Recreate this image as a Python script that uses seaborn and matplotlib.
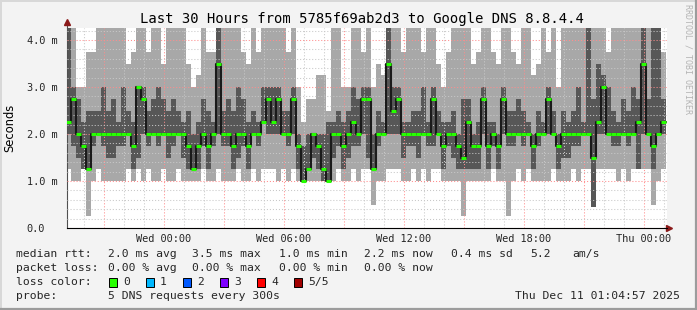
import matplotlib
matplotlib.use("Agg")
import numpy as np
import pandas as pd
import seaborn as sns
import matplotlib.pyplot as plt
from matplotlib.lines import Line2D
from matplotlib.patches import Rectangle

# ---------------- data (ms), one column = 15 min, starting Tue 19:05 ----------------
start_hour = -4.92          # hours relative to Wed 00:00
step_hours = 0.25

smoke_lo = [1.25,1.0,1.0,1.25,0.25,1.0,1.25,1.0,1.0,1.0, 1.0,1.0,1.25,1.0,1.25,1.0,1.25,1.0,1.0,1.25,
            1.0,1.0,1.25,1.0,1.0,1.0,1.0,1.25,1.0,1.0, 1.25,1.0,1.0,1.0,1.25,1.0,1.0,1.25,1.0,1.25,
            1.25,1.25,1.0,1.25,1.0,1.25,1.0,1.0,1.0,1.0, 1.0,1.0,1.0,1.0,1.25,1.0,1.0,1.25,1.0,1.25,
            1.25,0.5,1.0,1.0,1.25,1.25,1.25,1.0,1.0,1.25, 1.0,1.25,1.0,1.25,1.25,1.0,1.0,1.0,1.0,0.25,
            1.0,1.0,1.0,1.0,1.0,1.25,1.0,1.0,0.25,1.0, 1.25,1.0,1.25,1.0,1.0,1.0,1.0,1.25,1.0,1.0,
            1.0,1.25,1.0,1.25,1.25,0.45,1.25,1.25,1.25,1.25, 1.0,1.25,1.0,1.25,1.25,1.25,1.25,0.5,1.0,1.25]
smoke_q1 = [2.0,1.75,1.5,1.25,1.25,1.75,2.0,1.75,1.5,1.5, 1.75,1.75,2.0,1.25,1.5,2.0,1.75,2.0,1.75,2.0,
            1.5,1.75,2.0,1.5,1.25,1.25,1.25,1.75,1.25,1.75, 2.0,1.75,1.75,1.25,1.5,1.75,1.25,2.0,1.75,2.25,
            2.0,2.0,2.0,2.0,1.75,2.0,1.25,1.0,1.25,1.5, 1.25,1.0,1.0,1.5,1.75,1.25,1.5,1.75,1.75,2.0,
            1.5,1.25,1.75,2.0,2.0,2.0,2.0,1.5,1.75,1.75, 1.5,2.0,1.75,1.75,2.0,1.25,1.75,1.5,1.25,1.25,
            1.25,1.25,1.25,2.0,1.25,1.75,1.25,2.0,1.75,1.75, 2.0,1.75,2.0,1.25,1.75,2.0,2.0,2.0,1.25,1.5,
            1.5,1.75,1.75,2.0,2.0,0.45,2.0,2.0,2.0,1.75, 1.75,2.0,1.75,2.0,1.25,2.0,2.0,1.25,2.0,2.0]
median   = [2.25,2.75,2.0,1.75,1.25,2.0,2.0,2.0,2.0,2.0, 2.0,2.0,2.0,1.75,3.0,2.75,2.0,2.0,2.0,2.0,
            2.0,2.0,2.0,2.0,1.75,1.25,1.75,2.0,1.75,2.0, 3.5,2.0,2.0,1.75,2.0,2.0,1.75,2.0,2.0,2.25,
            2.75,2.25,2.75,2.0,2.0,2.75,1.75,1.0,1.25,2.0, 1.75,1.25,1.0,2.0,2.0,1.75,2.0,2.25,2.0,2.75,
            2.75,1.25,2.0,2.0,3.5,2.5,2.75,2.0,2.0,2.0, 2.0,2.0,2.0,2.75,2.0,1.75,2.0,2.0,1.75,1.5,
            2.25,1.75,1.75,2.75,1.75,2.0,1.75,2.75,2.0,2.0, 2.0,2.0,2.0,1.75,2.0,2.0,2.75,2.0,1.75,2.0,
            2.0,2.0,2.0,2.0,2.0,1.5,2.25,3.0,2.0,2.0, 2.0,2.0,2.0,2.0,2.25,3.5,2.0,1.75,2.0,2.25]
smoke_q3 = [4.3,3.0,2.75,2.25,2.5,2.5,2.5,3.0,2.5,2.75, 2.25,3.0,2.5,2.25,3.0,3.0,2.5,2.75,3.0,2.75,
            2.5,2.75,2.5,2.25,2.5,2.0,2.25,2.75,2.5,2.25, 4.3,2.5,2.75,2.5,3.0,2.75,2.25,2.5,2.25,3.0,
            3.0,3.0,3.0,2.5,2.5,3.0,2.0,1.75,2.0,2.0, 2.0,2.0,2.25,2.25,2.5,2.25,2.5,3.0,2.75,3.0,
            3.0,2.0,2.5,2.25,4.3,3.0,3.0,2.25,2.25,2.5, 2.5,3.0,2.25,3.0,2.5,2.25,2.25,2.5,2.0,2.75,
            2.75,2.0,2.25,3.0,2.25,2.25,2.0,3.0,2.5,2.5, 2.75,2.5,2.25,2.0,2.5,2.25,3.0,2.5,2.0,2.5,
            2.25,2.5,3.0,2.25,4.3,2.75,3.5,3.25,3.0,2.5, 2.25,2.75,2.5,3.0,2.75,4.3,2.75,4.3,4.3,2.75]
smoke_hi = [4.3,4.3,3.0,3.0,3.75,3.75,4.3,4.3,4.3,4.3, 4.3,4.3,3.5,3.75,4.3,4.3,3.75,4.3,4.3,3.5,
            4.3,4.3,4.3,4.3,3.5,3.0,3.25,4.3,3.75,3.75, 4.3,4.3,4.3,4.3,4.3,3.75,3.5,4.3,3.75,4.3,
            4.3,4.3,4.3,4.3,3.75,4.3,3.0,2.25,2.75,2.75, 3.25,3.25,2.5,4.3,4.3,3.0,3.0,4.3,4.3,3.75,
            4.3,3.0,3.5,3.25,4.3,4.3,4.3,3.75,4.3,4.3, 4.3,3.75,4.3,4.3,3.5,3.0,3.75,4.3,4.3,4.3,
            4.3,3.5,3.75,4.3,4.3,3.75,3.5,4.3,4.3,3.75, 3.5,4.3,4.3,3.25,3.5,4.3,3.75,4.3,3.0,4.3,
            4.3,4.3,4.3,4.3,4.3,4.3,4.3,4.3,3.75,4.3, 4.3,4.3,4.3,4.3,4.3,4.3,4.3,4.3,4.3,3.75]

xtick_hours = [-3, 0, 3, 6, 9, 12, 15, 18, 21, 24]
xtick_labels = ["", "Wed 00:00", "", "Wed 06:00", "", "Wed 12:00", "", "Wed 18:00", "", "Thu 00:00"]
ytick_values = [0, 1, 2, 3, 4]
ytick_labels = ["0.0", "1.0 m", "2.0 m", "3.0 m", "4.0 m"]

title = "Last 30 Hours from 5785f69ab2d3 to Google DNS 8.8.4.4"
row1 = [("median rtt:", 16), ("2.0 ms avg", 107.5), ("3.5 ms max", 192.5), ("1.0 ms min", 279),
        ("2.2 ms now", 364.5), ("0.4 ms sd", 451), ("5.2", 530), ("am/s", 572)]
row2 = [("packet loss:", 16), ("0.00 % avg", 107.5), ("0.00 % max", 192.5), ("0.00 % min", 279),
        ("0.00 % now", 364.5)]
loss_labels = ["0", "1", "2", "3", "4", "5/5"]
loss_colors = ["#26ff00", "#00b8ff", "#0059ff", "#7e00ff", "#ff0000", "#a10000"]
loss_box_x = [108.5, 145.5, 182.5, 219.5, 256.5, 293.5]
probe_text = "5 DNS requests every 300s"
stamp_text = "Thu Dec 11 01:04:57 2025"

# ---------------- figure ----------------
sns.set_style("white")
plt.rcParams["font.family"] = ["DejaVu Sans Mono", "DejaVu Sans"]

W, H = 697, 310
BG = "#f3f3f3"
fig = plt.figure(figsize=(W / 100, H / 100), dpi=100, facecolor=BG)
ax = fig.add_axes([67 / W, (H - 228) / H, 600 / W, 200 / H])
ax.set_facecolor("white")

def fx(x):
    return x / W

def fy(y):
    return 1 - y / H

n = len(median)
t = start_hour + step_hours * np.arange(n)
edges = np.append(t, t[-1] + step_hours)

def ext(a):
    a = np.asarray(a, dtype=float)
    return np.append(a, a[-1])

ax.fill_between(edges, ext(smoke_lo), ext(smoke_hi), step="post", color="#a8a8a8", lw=0, zorder=1)
ax.fill_between(edges, ext(smoke_q1), ext(smoke_q3), step="post", color="#575757", lw=0, zorder=1.2)

df = pd.DataFrame({"t": edges, "median": ext(median)})
sns.lineplot(data=df, x="t", y="median", drawstyle="steps-post", color="#1a1a1a",
             lw=1.5, ax=ax, zorder=3, estimator=None, legend=False)
ax.hlines(median, t, t + step_hours, colors="#26ff00", lw=2.2, zorder=4)

ax.set_xlim((67 - 164) / 20, (667 - 164) / 20)
ax.set_ylim(0, 200 / 47)
ax.set_xlabel("")
ax.set_ylabel("")

ax.set_xticks(xtick_hours)
ax.set_xticklabels(xtick_labels)
ax.set_xticks(np.arange(-4, 26, 1), minor=True)
ax.set_yticks(ytick_values)
ax.set_yticklabels(ytick_labels)
ax.set_yticks(np.arange(0, 4.3, 0.2), minor=True)

ax.set_axisbelow(False)
ax.grid(which="minor", color="#c8c8c8", lw=0.75, ls=(0, (1.0, 1.9)))
ax.grid(which="major", color="#ff8c8c", lw=0.75, ls=(0, (1.0, 1.9)))

ax.tick_params(axis="both", which="major", length=3, width=0.7, color="#777777", labelsize=7.4)
ax.tick_params(axis="both", which="minor", length=2, width=0.7, color="#999999")
ax.tick_params(axis="x", which="major", pad=1.2)
ax.tick_params(axis="y", which="major", pad=25.9)
for lbl in ax.get_yticklabels():
    lbl.set_horizontalalignment("left")

for s in ["top", "right"]:
    ax.spines[s].set_visible(False)
ax.spines["left"].set_color("#505050")
ax.spines["left"].set_linewidth(0.8)
ax.spines["bottom"].set_color("#000000")
ax.spines["bottom"].set_linewidth(0.8)

# axis extension + arrows
ax.add_line(Line2D([0, 0], [1.0, 1.02], transform=ax.transAxes, color="#505050", lw=0.8, clip_on=False))
ax.plot([0], [1.03], marker="^", ms=4.5, color="#8b1a1a", transform=ax.transAxes, clip_on=False)
ax.plot([1.004], [0], marker=">", ms=4.5, color="#8b1a1a", transform=ax.transAxes, clip_on=False)

# texts
fig.text(fx(362), fy(19), title, ha="center", va="center", fontsize=10, color="black")
fig.text(fx(10), fy(128), "Seconds", rotation=90, ha="center", va="center", fontsize=8.3,
         family="DejaVu Sans", color="black")
fig.text(fx(688), fy(59), "RRDTOOL / TOBI OETIKER", rotation=270, ha="center", va="center",
         fontsize=6, color="#b4b4b4")

LF = 8.2
for txt, x in row1:
    fig.text(fx(x), fy(254), txt, ha="left", va="center", fontsize=LF)
for txt, x in row2:
    fig.text(fx(x), fy(268), txt, ha="left", va="center", fontsize=LF)
fig.text(fx(16), fy(282), "loss color:", ha="left", va="center", fontsize=LF)
for lab, col, bx in zip(loss_labels, loss_colors, loss_box_x):
    fig.add_artist(Rectangle((fx(bx), fy(286.5)), 8 / W, 9 / H, transform=fig.transFigure,
                             facecolor=col, edgecolor="black", lw=0.7))
    fig.text(fx(bx + 14.5), fy(282), lab, ha="left", va="center", fontsize=LF)
fig.text(fx(16), fy(296), "probe:", ha="left", va="center", fontsize=LF)
fig.text(fx(107.5), fy(296), probe_text, ha="left", va="center", fontsize=LF)
fig.text(fx(680), fy(296), stamp_text, ha="right", va="center", fontsize=LF)

# 3D-ish frame
fig.add_artist(Line2D([0, 1], [1 - 0.5 / H, 1 - 0.5 / H], transform=fig.transFigure, color="#d8d8d8", lw=1.4))
fig.add_artist(Line2D([0.5 / W, 0.5 / W], [0, 1], transform=fig.transFigure, color="#d8d8d8", lw=1.4))
fig.add_artist(Line2D([0, 1], [1.0 / H, 1.0 / H], transform=fig.transFigure, color="#9c9c9c", lw=1.6))
fig.add_artist(Line2D([1 - 1.0 / W, 1 - 1.0 / W], [0, 1], transform=fig.transFigure, color="#9c9c9c", lw=1.6))

fig.savefig("out.png", dpi=100, facecolor=BG)
